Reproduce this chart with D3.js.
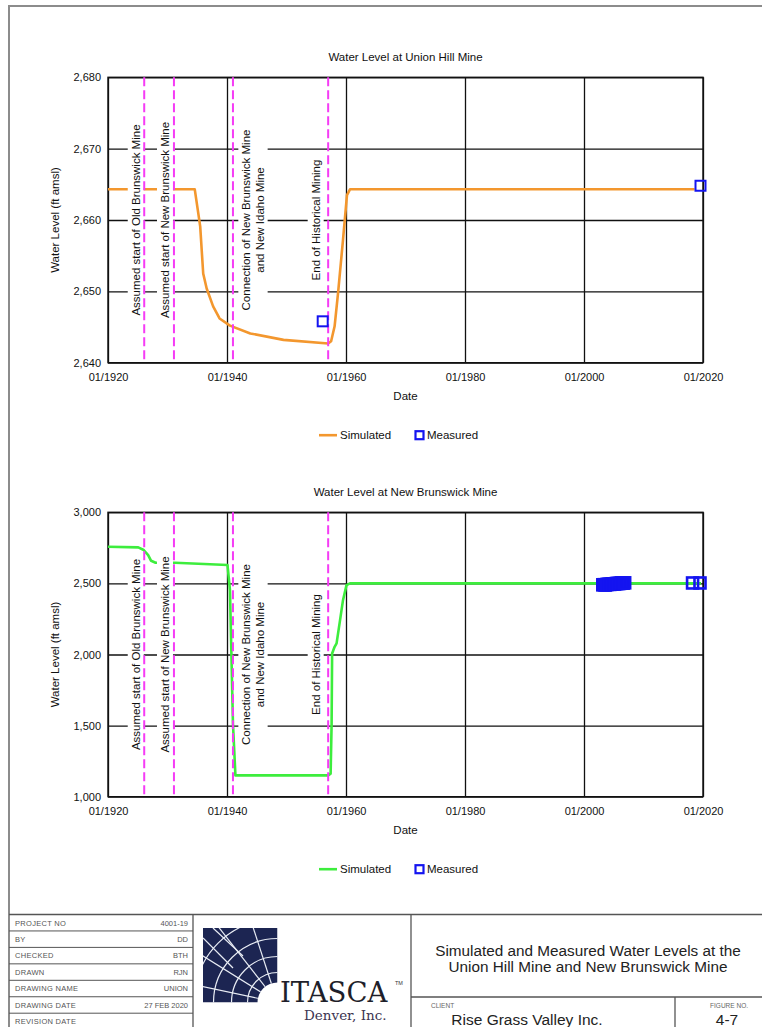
<!DOCTYPE html>
<html>
<head>
<meta charset="utf-8">
<script src="https://cdn.jsdelivr.net/npm/d3@7"></script>
<style>
  body { margin: 0; background: #fff; }
  svg { display: block; font-family: "Liberation Sans", Arial, sans-serif; }
</style>
</head>
<body>
<div id="figure"></div>
<script>
// union hill mine
const unionSimDates = ['1920-01', '1934-08', '1935-07', '1936-01', '1936-08', '1937-09', '1938-10', '1940-07', '1943-12',
    '1949-07', '1957-01', '1957-07', '1958-02', '1958-09', '1959-07', '1960-03', '1960-09', '2018-08'];
const unionSimLevels = [2664.3, 2664.3, 2659.1, 2652.5, 2650.4, 2647.9, 2646.2, 2645.2, 2644.1,
    2643.2, 2642.7, 2643.0, 2645.1, 2649.8, 2657.2, 2663.5, 2664.3, 2664.3];
const unionMeasDates = ['1956-02', '2019-08'];
const unionMeasLevels = [2645.8, 2664.8];
const unionTicks = [2640, 2650, 2660, 2670, 2680];

// new brunswick mine
const brunswickSimDates = ['1920-01', '1925-02', '1926-01', '1926-10', '1927-04', '1928-01', '1931-04', '1940-02', '1940-07',
    '1941-01', '1941-06', '1957-01', '1957-06', '1957-08', '1957-09', '1958-02', '1958-06', '1959-01', '1959-07',
    '1960-02', '1960-09', '2019-09'];
const brunswickSimLevels = [2758, 2753, 2735, 2699, 2659, 2645, 2645, 2629, 2453,
    1514, 1150, 1150, 1162, 1514, 2007, 2054, 2078, 2242, 2382,
    2488, 2500, 2500];
const brunswickMeasDates = ['2003-03', '2003-06', '2003-08', '2003-11', '2004-02', '2004-05', '2004-08', '2004-11',
    '2005-02', '2005-05', '2005-08', '2005-11', '2006-02', '2006-05', '2006-08', '2006-11', '2018-04', '2019-07'];
const brunswickMeasLevels = [2490, 2491, 2489, 2492, 2494, 2493, 2495, 2497,
    2496, 2498, 2500, 2499, 2501, 2503, 2502, 2504, 2503, 2503];
const brunswickTicks = [1000, 1500, 2000, 2500, 3000];

// shared
const xTickYears = [1920, 1940, 1960, 1980, 2000, 2020];
const eventDates = ['1926-02', '1931-02', '1941-01', '1957-01'];
const eventLabels = [
    ['Assumed start of Old Brunswick Mine'],
    ['Assumed start of New Brunswick Mine'],
    ['Connection of New Brunswick Mine', 'and New Idaho Mine'],
    ['End of Historical Mining']
];
const legendLabels = ['Simulated', 'Measured'];

// title block
const tableLabels = ['PROJECT NO', 'BY', 'CHECKED', 'DRAWN', 'DRAWING NAME', 'DRAWING DATE', 'REVISION DATE'];
const tableValues = ['4001-19', 'DD', 'BTH', 'RJN', 'UNION', '27 FEB 2020', ''];
const figureTitle = ['Simulated and Measured Water Levels at the', 'Union Hill Mine and New Brunswick Mine'];
const clientName = 'Rise Grass Valley Inc.';
const figureNo = '4-7';

const width = 762, height = 1027;
const parseDate = d3.timeParse('%Y-%m');
const formatDate = d3.timeFormat('%m/%Y');

const svg = d3.select('#figure')
    .append('svg')
    .attr('width', width)
    .attr('height', height);

// page frame
svg.append('path')
    .attr('d', 'M9,1027 V6 H762')
    .attr('fill', 'none')
    .attr('stroke', '#8c8c8c')
    .attr('stroke-width', 2);

const plotLeft = 108, plotRight = 703;
const labelShift = [-8.5, -9, 20, -12.5];

function WaterLevelChart(cfg) {
    const g = svg.append('g');

    const xScale = d3.scaleTime()
        .domain([new Date(1920, 0, 1), new Date(2020, 0, 1)])
        .range([plotLeft, plotRight]);

    const yScale = d3.scaleLinear()
        .domain([cfg.ticks[0], cfg.ticks[cfg.ticks.length - 1]])
        .range([cfg.bottom, cfg.top]);

    const midY = (cfg.top + cfg.bottom) / 2;

    // title
    g.append('text')
        .attr('x', (plotLeft + plotRight) / 2)
        .attr('y', cfg.top - 16)
        .attr('text-anchor', 'middle')
        .attr('font-size', 11.5)
        .attr('fill', '#111')
        .text(cfg.title);

    // horizontal grid and y labels
    const yAxis = d3.axisLeft(yScale)
        .tickValues(cfg.ticks)
        .tickSize(-(plotRight - plotLeft))
        .tickPadding(7)
        .tickFormat(d3.format(','));

    g.append('g')
        .attr('transform', 'translate(' + plotLeft + ',0)')
        .call(yAxis)
        .call(s => s.select('.domain').remove())
        .call(s => s.selectAll('line').attr('stroke', '#111').attr('stroke-width', 1.3))
        .call(s => s.selectAll('text').attr('font-size', 11).attr('fill', '#111')
            .attr('font-family', '"Liberation Sans", Arial, sans-serif'));

    // vertical grid and date labels
    const xAxis = d3.axisBottom(xScale)
        .tickValues(xTickYears.map(yr => new Date(yr, 0, 1)))
        .tickSize(-(cfg.bottom - cfg.top))
        .tickPadding(11)
        .tickFormat(formatDate);

    g.append('g')
        .attr('transform', 'translate(0,' + cfg.bottom + ')')
        .call(xAxis)
        .call(s => s.select('.domain').remove())
        .call(s => s.selectAll('line').attr('stroke', '#111').attr('stroke-width', 1.3))
        .call(s => s.selectAll('text').attr('font-size', 11).attr('fill', '#111')
            .attr('font-family', '"Liberation Sans", Arial, sans-serif'));

    g.append('rect')
        .attr('x', plotLeft)
        .attr('y', cfg.top)
        .attr('width', plotRight - plotLeft)
        .attr('height', cfg.bottom - cfg.top)
        .attr('fill', 'none')
        .attr('stroke', '#111')
        .attr('stroke-width', 1.4);

    // axis titles
    g.append('text')
        .attr('transform', 'translate(55,' + midY + ') rotate(-90)')
        .attr('text-anchor', 'middle')
        .attr('dy', '0.35em')
        .attr('font-size', 11.5)
        .attr('fill', '#111')
        .text('Water Level (ft amsl)');

    g.append('text')
        .attr('x', (plotLeft + plotRight) / 2)
        .attr('y', cfg.bottom + 37)
        .attr('text-anchor', 'middle')
        .attr('font-size', 11.5)
        .attr('fill', '#111')
        .text('Date');

    // simulated
    const simData = cfg.simDates.map((d, i) => ({date: parseDate(d), level: cfg.simLevels[i]}));
    const line = d3.line()
        .x(d => xScale(d.date))
        .y(d => yScale(d.level));

    g.append('path')
        .datum(simData)
        .attr('d', line)
        .attr('fill', 'none')
        .attr('stroke', cfg.color)
        .attr('stroke-width', 2.6)
        .attr('stroke-linejoin', 'round');

    // event labels sit on white boxes that hide grid and line
    eventLabels.forEach((lines, i) => {
        const cx = xScale(parseDate(eventDates[i])) + labelShift[i];
        const lg = g.append('g')
            .attr('transform', 'translate(' + cx + ',' + midY + ') rotate(-90)');
        const box = lg.append('rect').attr('fill', '#fff');
        const txt = lg.append('text')
            .attr('text-anchor', 'middle')
            .attr('font-size', 11.5)
            .attr('fill', '#111');
        lines.forEach((t, j) => {
            txt.append('tspan')
                .attr('x', 0)
                .attr('y', (j - (lines.length - 1) / 2) * 13.3)
                .attr('dy', '0.35em')
                .text(t);
        });
        const bb = txt.node().getBBox();
        box.attr('x', bb.x - 2)
            .attr('y', bb.y - 2)
            .attr('width', bb.width + 4)
            .attr('height', bb.height + 4);
    });

    g.selectAll('.event')
        .data(eventDates)
        .enter()
        .append('line')
        .attr('class', 'event')
        .attr('x1', d => xScale(parseDate(d)))
        .attr('x2', d => xScale(parseDate(d)))
        .attr('y1', cfg.top)
        .attr('y2', cfg.bottom)
        .attr('stroke', '#f53cf5')
        .attr('stroke-width', 2)
        .attr('stroke-dasharray', '9,4');

    // measured
    const measData = cfg.measDates.map((d, i) => ({date: parseDate(d), level: cfg.measLevels[i]}));
    g.selectAll('.meas')
        .data(measData)
        .enter()
        .append('rect')
        .attr('class', 'meas')
        .attr('x', d => xScale(d.date) - cfg.marker / 2)
        .attr('y', d => yScale(d.level) - cfg.marker / 2)
        .attr('width', cfg.marker)
        .attr('height', cfg.marker)
        .attr('fill', 'none')
        .attr('stroke', '#1414f0')
        .attr('stroke-width', cfg.markerStroke);

    // legend
    const ly = cfg.bottom + 72.5;
    g.append('line')
        .attr('x1', 319).attr('x2', 337)
        .attr('y1', ly).attr('y2', ly)
        .attr('stroke', cfg.color)
        .attr('stroke-width', 2.6);
    g.append('text')
        .attr('x', 340).attr('y', ly + 4)
        .attr('font-size', 11.5)
        .attr('fill', '#111')
        .text(legendLabels[0]);
    g.append('rect')
        .attr('x', 415.5).attr('y', ly - 4)
        .attr('width', 8).attr('height', 8)
        .attr('fill', 'none')
        .attr('stroke', '#1414f0')
        .attr('stroke-width', 2.2);
    g.append('text')
        .attr('x', 427).attr('y', ly + 4)
        .attr('font-size', 11.5)
        .attr('fill', '#111')
        .text(legendLabels[1]);
}

WaterLevelChart({
    title: 'Water Level at Union Hill Mine',
    top: 77.3, bottom: 362.7,
    ticks: unionTicks,
    simDates: unionSimDates, simLevels: unionSimLevels,
    measDates: unionMeasDates, measLevels: unionMeasLevels,
    color: '#f3972e',
    marker: 10, markerStroke: 2
});

WaterLevelChart({
    title: 'Water Level at New Brunswick Mine',
    top: 512.3, bottom: 796.7,
    ticks: brunswickTicks,
    simDates: brunswickSimDates, simLevels: brunswickSimLevels,
    measDates: brunswickMeasDates, measLevels: brunswickMeasLevels,
    color: '#3ded3d',
    marker: 11, markerStroke: 2.6
});

// title block
const block = svg.append('g');
const rowTop = 914.5, rowH = 16.45;

block.append('line')
    .attr('x1', 9).attr('x2', 762)
    .attr('y1', rowTop).attr('y2', rowTop)
    .attr('stroke', '#555').attr('stroke-width', 1.5);

[193, 411].forEach(xv => {
    block.append('line')
        .attr('x1', xv).attr('x2', xv)
        .attr('y1', rowTop).attr('y2', height)
        .attr('stroke', '#555').attr('stroke-width', 1.3);
});

tableLabels.forEach((lab, i) => {
    const y0 = rowTop + i * rowH;
    if (i > 0) {
        block.append('line')
            .attr('x1', 9).attr('x2', 193)
            .attr('y1', y0).attr('y2', y0)
            .attr('stroke', '#555').attr('stroke-width', 1);
    }
    block.append('text')
        .attr('x', 15).attr('y', y0 + rowH / 2 + 2.8)
        .attr('font-size', 7.5)
        .attr('letter-spacing', 0.3)
        .attr('fill', '#555')
        .text(lab);
    block.append('text')
        .attr('x', 188).attr('y', y0 + rowH / 2 + 2.8)
        .attr('text-anchor', 'end')
        .attr('font-size', 7.5)
        .attr('fill', '#555')
        .text(tableValues[i]);
});

// logo
const lx0 = 203, ly0 = 928, lx1 = 277.5, ly1 = 1002.5, notch = 20;
const logo = block.append('g');
logo.append('clipPath')
    .attr('id', 'logo-clip')
    .append('path')
    .attr('d', 'M' + lx0 + ',' + ly0 + ' H' + lx1 + ' V' + (ly1 - notch) +
        ' A' + notch + ',' + notch + ' 0 0 0 ' + (lx1 - notch) + ',' + ly1 + ' H' + lx0 + ' Z');
logo.append('rect')
    .attr('x', lx0).attr('y', ly0)
    .attr('width', lx1 - lx0).attr('height', ly1 - ly0)
    .attr('fill', '#1c2552')
    .attr('clip-path', 'url(#logo-clip)');
const pattern = logo.append('g')
    .attr('clip-path', 'url(#logo-clip)')
    .attr('fill', 'none')
    .attr('stroke', '#e8ecf4')
    .attr('stroke-width', 1.2);
[30, 46, 64, 84].forEach(r => {
    pattern.append('circle').attr('cx', lx1).attr('cy', ly1).attr('r', r);
});
[192, 212, 232, 252].forEach(a => {
    const rad = a * Math.PI / 180;
    pattern.append('line')
        .attr('x1', lx1).attr('y1', ly1)
        .attr('x2', lx1 + 120 * Math.cos(rad)).attr('y2', ly1 + 120 * Math.sin(rad));
});
pattern.append('line').attr('x1', lx0).attr('y1', ly0 + 10).attr('x2', lx0 + 30).attr('y2', ly0 + 40);
pattern.append('line').attr('x1', lx0 + 10).attr('y1', ly0).attr('x2', lx0 + 40).attr('y2', ly0 + 28);

block.append('text')
    .attr('x', 280).attr('y', 1001.5)
    .attr('font-family', '"DejaVu Serif", "Liberation Serif", serif')
    .attr('font-size', 27.5)
    .attr('fill', '#1f1f2a')
    .text('ITASCA');
block.append('text')
    .attr('x', 395).attr('y', 985)
    .attr('font-size', 5.5)
    .attr('fill', '#333')
    .text('TM');
block.append('text')
    .attr('x', 304).attr('y', 1020)
    .attr('font-family', '"DejaVu Serif", "Liberation Serif", serif')
    .attr('font-size', 13.5)
    .attr('fill', '#3d3552')
    .text('Denver, Inc.');

// figure description
figureTitle.forEach((t, i) => {
    block.append('text')
        .attr('x', 588).attr('y', 955.5 + i * 16.7)
        .attr('text-anchor', 'middle')
        .attr('font-size', 15.3)
        .attr('fill', '#222')
        .text(t);
});

block.append('line')
    .attr('x1', 411).attr('x2', 762)
    .attr('y1', 997).attr('y2', 997)
    .attr('stroke', '#555').attr('stroke-width', 1.3);
block.append('line')
    .attr('x1', 675).attr('x2', 675)
    .attr('y1', 997).attr('y2', height)
    .attr('stroke', '#555').attr('stroke-width', 1.3);

block.append('text')
    .attr('x', 431).attr('y', 1008)
    .attr('font-size', 6.5)
    .attr('fill', '#666')
    .text('CLIENT');
block.append('text')
    .attr('x', 748).attr('y', 1008)
    .attr('text-anchor', 'end')
    .attr('font-size', 6.5)
    .attr('fill', '#666')
    .text('FIGURE NO.');
block.append('text')
    .attr('x', 527).attr('y', 1024.5)
    .attr('text-anchor', 'middle')
    .attr('font-size', 15.5)
    .attr('fill', '#222')
    .text(clientName);
block.append('text')
    .attr('x', 727).attr('y', 1024.5)
    .attr('text-anchor', 'middle')
    .attr('font-size', 15.5)
    .attr('fill', '#222')
    .text(figureNo);
</script>
</body>
</html>
